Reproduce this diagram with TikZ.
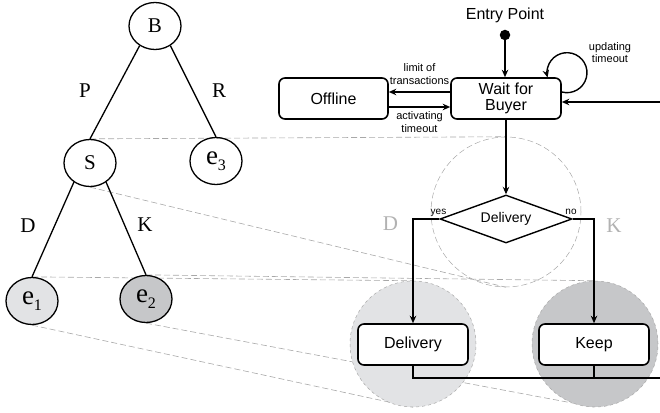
\documentclass[tikz,border=0pt]{standalone}
\usepackage{fontspec}
\setmainfont{Liberation Serif}
\newfontfamily\arialfont{Liberation Sans}
\usetikzlibrary{positioning,shapes.geometric,backgrounds,arrows.meta}
\definecolor{lightfill}{HTML}{E2E3E5}
\definecolor{darkfill}{HTML}{C6C7C9}
\definecolor{dashgray}{HTML}{A8A8A8}
\definecolor{labelgray}{HTML}{B2B2B2}

\tikzset{
	treenode/.style={ellipse, draw, line width=1.3pt, minimum width=52pt, minimum height=47pt, inner sep=0pt, font=\fontsize{21}{21}\selectfont},
	statebox/.style={rectangle, rounded corners=6pt, draw, line width=1.6pt, minimum width=110pt, minimum height=41pt, align=center, fill=white, font=\arialfont\fontsize{16}{16}\selectfont},
	smalltext/.style={font=\arialfont\fontsize{11}{12.5}\selectfont, align=center, inner sep=1pt},
	guide/.style={draw=dashgray, dash pattern=on 6pt off 3pt, line width=0.6pt},
	flow/.style={line width=1.4pt, -{Stealth[length=7.5pt, width=6.5pt, inset=2.5pt]}},
	treeedge/.style={line width=1.3pt},
}
\newcommand{\leaf}[1]{{\fontsize{27}{27}\selectfont e}\raisebox{-6pt}{\fontsize{16}{16}\selectfont #1}}

\begin{document}
\begin{tikzpicture}[x=1pt, y=1pt]
	\useasboundingbox (0,0) rectangle (660,412);

	% tree
	\node[treenode] (B) at (155,386) {B};
	\node[treenode] (S) at (90,249) {S};
	\node[treenode] (e3) at (216,251) {\leaf{3}};
	\node[treenode, fill=lightfill] (e1) at (32,111) {\leaf{1}};
	\node[treenode, fill=darkfill] (e2) at (146,113) {\leaf{2}};

	\draw[treeedge] (B.-128) -- (S.north);
	\draw[treeedge] (B.-52) -- (e3.north);
	\draw[treeedge] (S.-130) -- (e1.north);
	\draw[treeedge] (S.-50) -- (e2.north);

	\node[font=\fontsize{21}{21}\selectfont] (lp) at (85,321) {P};
	\node[font=\fontsize{21}{21}\selectfont] (lr) at (219,321) {R};
	\node[font=\fontsize{21}{21}\selectfont] (ld) at (28,186) {D};
	\node[font=\fontsize{21}{21}\selectfont] (lk) at (145,187) {K};

	% highlight circles
	\node[circle, guide, line width=0.5pt, minimum size=150pt] (dc) at (506,200) {};
	\node[circle, draw=dashgray, dashed, line width=0.5pt, fill=lightfill, minimum size=126pt] (lc) at (413,68) {};
	\node[circle, draw=dashgray, dashed, line width=0.5pt, fill=darkfill, minimum size=126pt] (kc) at (595,68) {};

	% state machine
	\node[statebox] (wait) at (506,313.5) {Wait for\\Buyer};
	\node[statebox, minimum width=109pt] (offline) at (333.5,313.5) {Offline};
	\node[circle, fill, inner sep=0pt, minimum size=10.5pt] (dot) at (505,377) {};
	\node[font=\arialfont\fontsize{16}{16}\selectfont] (entry) at (505,397) {Entry Point};
	\node[diamond, draw, line width=1.4pt, fill=white, aspect=2.75, minimum width=132pt, minimum height=48pt, inner sep=0pt, font=\arialfont\fontsize{14}{16}\selectfont] (dia) at (506,193) {Delivery};
	\node[statebox] (delivery) at (413,67.5) {Delivery};
	\node[statebox] (keep) at (594,67.5) {Keep};
	\coordinate (rin) at (660,310);
	\coordinate (bout) at (660,34);

	\draw[flow] (dot) -- (dot |- wait.north);
	\draw[flow] ([yshift=6.5pt]wait.west) -- node[smalltext, above=6pt] (lim) {limit of\\transactions} ([yshift=6.5pt]offline.east);
	\draw[flow] ([yshift=-8.5pt]offline.east) -- node[smalltext, below=3pt] (act) {activating\\timeout} ([yshift=-8.5pt]wait.west);
	\draw[flow] ([yshift=6.5pt]wait.east) arc[start angle=-105, end angle=194, radius=20];
	\node[smalltext] (upd) at (610,359.5) {updating\\timeout};
	\draw[flow] (rin) -- (wait.east |- rin);
	\draw[flow] (wait.south) -- (dia.north);
	\draw[flow] (dia.west) -| (delivery.north);
	\draw[flow] (dia.east) -| (keep.north);
	\draw[line width=1.4pt] (delivery.south) |- (bout);
	\draw[line width=1.4pt] (keep.south) -- (keep.south |- bout);

	\node[smalltext, font=\arialfont\fontsize{10}{10}\selectfont] (yes) at (438.5,199.5) {yes};
	\node[smalltext, font=\arialfont\fontsize{10}{10}\selectfont] (no) at (571,200) {no};
	\node[labelgray, font=\fontsize{21}{21}\selectfont] (gd) at (390.5,188) {D};
	\node[labelgray, font=\fontsize{21}{21}\selectfont] (gk) at (614,186) {K};

	% mapping lines
	\begin{scope}[on background layer]
		\draw[guide] (S.north) -- (dc.north);
		\draw[guide] (S.south) -- (dc.south);
		\draw[guide] (e1.north) -- (lc.north);
		\draw[guide] (e2.north) -- (kc.north);
		\draw[guide] (e1.south) -- (lc.south);
		\draw[guide] (e2.south) -- (kc.south);
	\end{scope}
\end{tikzpicture}
\end{document}
